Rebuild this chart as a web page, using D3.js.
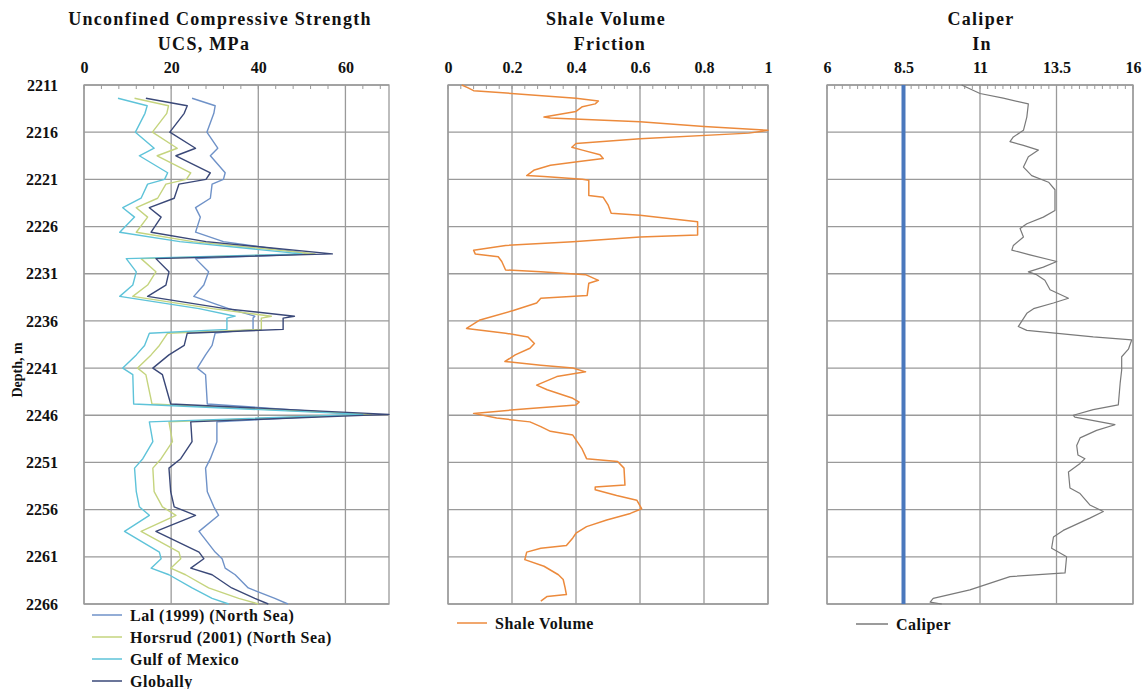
<!DOCTYPE html>
<html>
<head>
<meta charset="utf-8">
<script src="https://cdn.jsdelivr.net/npm/d3@7"></script>
<style>
  html, body { margin: 0; padding: 0; background: #fff; }
  svg { display: block; }
  text { font-family: "Liberation Serif", "Times New Roman", serif; font-weight: bold; fill: #111; }
</style>
</head>
<body>
<svg id="chart" width="1143" height="689"></svg>
<script>
// ---------------- DATA ----------------
const depthTicks = [2211, 2216, 2221, 2226, 2231, 2236, 2241, 2246, 2251, 2256, 2261, 2266];

const ucsTicks = [0, 20, 40, 60];
const shaleTicks = [0, 0.2, 0.4, 0.6, 0.8, 1];
const shaleTickLabels = ["0", "0.2", "0.4", "0.6", "0.8", "1"];
const caliperTicks = [6, 8.5, 11, 13.5, 16];

const ucsDepth = [2212.4, 2213.2, 2214.0, 2216.0, 2217.7, 2218.5, 2220.3, 2221.0, 2221.5, 2223.0,
  2224.0, 2225.0, 2226.6, 2227.6, 2228.9, 2229.4, 2230.8, 2232.2, 2233.4, 2234.7,
  2235.5, 2235.7, 2236.9, 2237.3, 2238.6, 2239.6, 2241.0, 2241.7, 2244.8, 2245.9,
  2246.7, 2248.8, 2250.6, 2251.6, 2254.1, 2255.7, 2256.6, 2258.3, 2260.5, 2261.2,
  2262.2, 2262.9, 2264.3, 2265.4, 2266.0];

const lalUCS = [24.8, 30.1, 29.8, 28.2, 30.7, 29.0, 32.4, 32.0, 29.4, 29.0,
  25.6, 26.7, 25.6, 32, 52, 25.6, 28.6, 27.5, 25.2, 33.2,
  39.2, 38.8, 38.8, 30.1, 29.4, 27.9, 26.0, 27.9, 28.3, 63,
  30.5, 30.5, 29.0, 27.9, 28.3, 29.8, 30.9, 26.4, 30.1, 31.7,
  32.4, 34.7, 37.7, 43.8, 46.8];

const horsrudUCS = [11.6, 19.4, 19.0, 15.7, 21.4, 16.8, 24.5, 23.5, 18.8, 16.9,
  12.0, 14.6, 12.0, 25, 53, 13.1, 16.5, 14.6, 11.2, 29.5,
  43.0, 40.7, 40.7, 19.2, 17.3, 15.4, 12.3, 14.2, 15.6, 66,
  19.5, 20.3, 17.7, 15.8, 16.1, 18.0, 21.1, 13.1, 21.8, 22.2,
  19.9, 23.3, 28.6, 35.5, 40.0];

const gulfUCS = [7.8, 14.5, 14.0, 11.8, 16.1, 12.7, 19.2, 18.5, 14.6, 13.1,
  8.9, 11.6, 8.2, 22, 50, 9.7, 12.0, 11.2, 8.2, 26.4,
  34.7, 32.8, 32.8, 15.0, 13.9, 12.0, 8.9, 11.2, 11.4, 64,
  15.0, 15.8, 13.5, 11.6, 12.0, 12.7, 15.0, 9.3, 17.3, 17.7,
  15.4, 19.5, 24.8, 29.4, 33.2];

const globalUCS = [14.2, 23.7, 23.0, 19.7, 25.6, 21.1, 29.0, 28.0, 21.8, 20.7,
  15.0, 17.7, 15.4, 28, 57, 16.5, 19.5, 18.8, 14.6, 32.4,
  48.3, 45.7, 45.7, 23.7, 23.0, 19.5, 15.8, 18.0, 19.9, 70,
  24.5, 24.8, 22.2, 19.5, 19.9, 20.7, 25.6, 16.5, 26.4, 27.5,
  24.5, 29.4, 33.9, 39.2, 42.3];

const shaleDepth = [2211.0, 2211.3, 2211.6, 2212.4, 2212.7, 2213.0, 2213.3, 2213.8, 2214.4, 2214.5,
  2214.9, 2215.4, 2215.8, 2216.1, 2216.7, 2217.2, 2217.6, 2217.9, 2218.4, 2218.8,
  2219.1, 2219.5, 2220.0, 2220.6, 2220.7, 2221.0, 2221.1, 2222.7, 2222.9, 2223.7,
  2224.6, 2224.8, 2225.5, 2226.9, 2227.1, 2227.6, 2228.0, 2228.5, 2228.9, 2229.2,
  2229.7, 2230.6, 2230.8, 2231.1, 2231.7, 2232.0, 2233.3, 2233.6, 2234.1, 2234.9,
  2235.9, 2236.8, 2237.3, 2237.7, 2238.4, 2238.9, 2239.6, 2240.3, 2240.7, 2241.0,
  2241.4, 2241.9, 2242.8, 2243.3, 2244.2, 2244.6, 2244.9, 2245.3, 2245.8, 2246.3,
  2246.7, 2247.2, 2247.7, 2248.1, 2248.6, 2249.5, 2250.6, 2250.9, 2251.6, 2253.4,
  2253.6, 2253.9, 2254.5, 2255.0, 2255.9, 2256.4, 2257.1, 2257.8, 2258.5, 2259.0,
  2259.8, 2260.1, 2260.5, 2261.3, 2262.0, 2262.9, 2263.4, 2264.3, 2265.0, 2265.2,
  2265.7];

const shaleVolume = [0.043, 0.063, 0.08, 0.40, 0.47, 0.46, 0.42, 0.40, 0.30, 0.32,
  0.60, 0.80, 1.0, 0.94, 0.60, 0.40, 0.387, 0.42, 0.475, 0.485,
  0.41, 0.32, 0.27, 0.246, 0.30, 0.42, 0.44, 0.44, 0.485, 0.50,
  0.51, 0.60, 0.78, 0.78, 0.60, 0.39, 0.18, 0.08, 0.085, 0.157,
  0.168, 0.18, 0.29, 0.43, 0.47, 0.44, 0.435, 0.29, 0.277, 0.204,
  0.10, 0.058, 0.18, 0.25, 0.27, 0.256, 0.21, 0.178, 0.29, 0.39,
  0.43, 0.34, 0.277, 0.31, 0.39, 0.41, 0.40, 0.246, 0.08, 0.152,
  0.256, 0.29, 0.32, 0.39, 0.40, 0.418, 0.433, 0.53, 0.55, 0.553,
  0.46, 0.46, 0.527, 0.59, 0.605, 0.57, 0.496, 0.433, 0.40, 0.39,
  0.37, 0.29, 0.246, 0.24, 0.30, 0.345, 0.36, 0.366, 0.37, 0.31,
  0.29];

const caliperDepth = [2211.0, 2211.9, 2212.4, 2213.0, 2214.4, 2215.8, 2216.5, 2217.0, 2217.4, 2217.9,
  2218.6, 2219.7, 2220.6, 2221.3, 2222.1, 2224.3, 2225.0, 2225.7, 2226.2, 2227.1,
  2228.0, 2228.5, 2229.0, 2229.7, 2230.3, 2230.8, 2231.1, 2231.7, 2232.7, 2233.6,
  2234.1, 2234.7, 2235.2, 2236.6, 2237.0, 2237.7, 2238.0, 2239.0, 2239.8, 2241.2,
  2242.6, 2244.9, 2245.4, 2246.0, 2246.2, 2247.0, 2247.6, 2248.4, 2249.2, 2250.2,
  2250.6, 2251.1, 2252.0, 2253.7, 2254.3, 2255.5, 2256.2, 2256.9, 2258.2, 2258.9,
  2260.1, 2260.5, 2261.0, 2262.7, 2263.1, 2264.5, 2265.4, 2265.8, 2266.0];

const caliper = [10.40, 11.0, 11.76, 12.58, 12.53, 12.42, 12.09, 11.98, 12.42, 12.91,
  12.58, 12.42, 12.69, 13.24, 13.45, 13.45, 13.07, 12.53, 12.31, 12.42,
  12.09, 12.04, 12.63, 13.51, 13.07, 12.58, 12.85, 13.12, 13.29, 13.89,
  13.40, 12.75, 12.53, 12.25, 12.53, 14.70, 15.96, 15.85, 15.63, 15.63,
  15.58, 15.52, 14.70, 14.05, 14.10, 15.41, 14.81, 14.27, 14.16, 14.20,
  14.43, 14.27, 13.89, 13.94, 14.27, 14.59, 15.03, 14.59, 13.72, 13.40,
  13.34, 13.56, 13.83, 13.78, 11.98, 10.67, 9.47, 9.37, 9.75];

const bitDepth = [2211, 2266];
const bitSize = [8.5, 8.5];

// ---------------- LAYOUT ----------------
const svg = d3.select("#chart");
const plotTop = 85, plotBottom = 604;
const y = d3.scaleLinear().domain([2211, 2266]).range([plotTop, plotBottom]);

const gridColor = "#9a9a9a";
const tickFont = 16;

function panel(x0, x1, domain, majors, minorStep, labels) {
  const x = d3.scaleLinear().domain(domain).range([x0, x1]);
  const g = svg.append("g");
  g.selectAll("line.h").data(depthTicks).join("line")
    .attr("x1", x0).attr("x2", x1)
    .attr("y1", d => y(d)).attr("y2", d => y(d))
    .attr("stroke", gridColor).attr("stroke-width", 1.3);
  g.selectAll("line.v").data(majors).join("line")
    .attr("x1", d => x(d)).attr("x2", d => x(d))
    .attr("y1", plotTop).attr("y2", plotBottom)
    .attr("stroke", gridColor).attr("stroke-width", 1.3);
  g.append("rect").attr("x", x0).attr("y", plotTop).attr("width", x1 - x0).attr("height", plotBottom - plotTop)
    .attr("fill", "none").attr("stroke", gridColor).attr("stroke-width", 1.3);
  const minors = d3.range(domain[0], domain[1] + 1e-9, minorStep);
  g.selectAll("line.m").data(minors).join("line")
    .attr("x1", d => x(d)).attr("x2", d => x(d))
    .attr("y1", plotTop).attr("y2", plotTop + 4)
    .attr("stroke", gridColor).attr("stroke-width", 1);
  const axis = d3.axisTop(x).tickValues(majors).tickSize(0).tickPadding(0)
    .tickFormat((d, i) => labels ? labels[i] : d);
  const ag = svg.append("g").attr("transform", `translate(0,${plotTop - 12})`).call(axis);
  ag.select(".domain").remove();
  ag.selectAll("text").attr("font-size", tickFont).style("font-family", '"Liberation Serif", serif')
    .style("font-weight", "bold").attr("fill", "#111");
  return x;
}

const xU = panel(84, 389, [0, 70], ucsTicks, 4, null);
const xS = panel(448, 768, [0, 1], shaleTicks, 0.04, shaleTickLabels);
const xC = panel(827, 1133, [6, 16], caliperTicks, 0.25, null);

const yAxis = d3.axisLeft(y).tickValues(depthTicks).tickSize(0).tickPadding(0).tickFormat(d3.format("d"));
const yg = svg.append("g").attr("transform", "translate(58,0)").call(yAxis);
yg.select(".domain").remove();
yg.selectAll("text").attr("font-size", tickFont).style("font-family", '"Liberation Serif", serif')
  .style("font-weight", "bold").attr("fill", "#111");

svg.append("text").attr("transform", "translate(22,370) rotate(-90)")
  .attr("text-anchor", "middle").attr("font-size", 14).text("Depth, m");

function title(x, yy, txt) {
  svg.append("text").attr("x", x).attr("y", yy).attr("text-anchor", "middle")
    .attr("font-size", 18).attr("letter-spacing", 1.3).text(txt);
}
title(220, 25, "Unconfined Compressive Strength");
title(204, 50, "UCS, MPa");
title(606, 25, "Shale Volume");
title(610, 50, "Friction");
title(981, 25, "Caliper");
title(982, 50, "In");

function drawLine(xs, ys, xScale, color, width) {
  const pts = ys.map((d, i) => [xs[i], d]);
  svg.append("path").datum(pts)
    .attr("fill", "none").attr("stroke", color).attr("stroke-width", width)
    .attr("stroke-linejoin", "round")
    .attr("d", d3.line().x(p => xScale(p[1])).y(p => y(p[0])));
}

const colLal = "#6f92c8", colHors = "#c5d47e", colGulf = "#5ec3d9", colGlob = "#3a4878";
drawLine(ucsDepth, lalUCS, xU, colLal, 1.4);
drawLine(ucsDepth, horsrudUCS, xU, colHors, 1.4);
drawLine(ucsDepth, gulfUCS, xU, colGulf, 1.4);
drawLine(ucsDepth, globalUCS, xU, colGlob, 1.4);

drawLine(shaleDepth, shaleVolume, xS, "#ec8a3c", 1.5);

drawLine(bitDepth, bitSize, xC, "#4a78bd", 4);
drawLine(caliperDepth, caliper, xC, "#7a7a7a", 1.2);

function legend(x0, x1, yy, color, txt) {
  svg.append("line").attr("x1", x0).attr("x2", x1).attr("y1", yy).attr("y2", yy)
    .attr("stroke", color).attr("stroke-width", 1.5);
  svg.append("text").attr("x", x1 + 8).attr("y", yy + 6).attr("font-size", 16)
    .attr("letter-spacing", 0.5).text(txt);
}
legend(92, 122, 615, colLal, "Lal (1999) (North Sea)");
legend(92, 122, 637, colHors, "Horsrud (2001) (North Sea)");
legend(92, 122, 659, colGulf, "Gulf of Mexico");
legend(92, 122, 681, colGlob, "Globally");
legend(457, 487, 623, "#ec8a3c", "Shale Volume");
legend(856, 888, 624, "#7a7a7a", "Caliper");
</script>
</body>
</html>
